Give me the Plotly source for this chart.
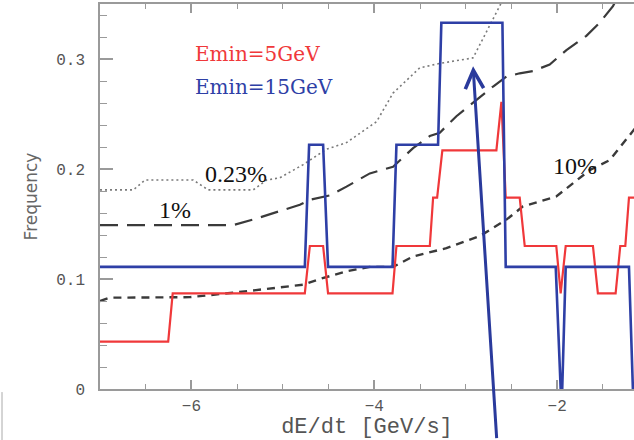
import plotly.graph_objects as go

# Emin = 15 GeV histogram (blue)
blue_x = [-7.0, -4.760, -4.713, -4.560, -4.506, -3.801, -3.758, -3.303, -3.267, -2.599,
          -2.563, -2.016, -1.962, -1.945, -1.907, -1.215, -1.172]
blue_y = [0.111, 0.111, 0.222, 0.222, 0.111, 0.111, 0.222, 0.222, 0.333, 0.333,
          0.111, 0.111, 0.0, 0.0, 0.111, 0.111, 0.0]

# Emin = 5 GeV histogram (red)
red_x = [-7.0, -6.254, -6.205, -4.760, -4.705, -4.560, -4.506, -3.801, -3.758, -3.393,
         -3.357, -3.313, -3.256, -2.665, -2.610, -2.563, -2.410, -2.355, -2.010, -1.962,
         -1.907, -1.609, -1.555, -1.361, -1.310, -1.255, -1.215, -1.10]
red_y = [0.043, 0.043, 0.087, 0.087, 0.130, 0.130, 0.087, 0.087, 0.130, 0.130,
         0.174, 0.174, 0.217, 0.217, 0.261, 0.174, 0.174, 0.130, 0.130, 0.087,
         0.130, 0.130, 0.087, 0.087, 0.130, 0.130, 0.174, 0.174]

# 0.23% chance-probability curve (dotted)
p023_x = [-7.0, -6.636, -6.508, -5.980, -5.816, -5.325, -5.178, -5.033, -4.778, -4.522,
          -4.304, -3.976, -3.795, -3.503, -3.284, -2.920, -2.630, -2.580]
p023_y = [0.181, 0.181, 0.190, 0.190, 0.181, 0.181, 0.190, 0.192, 0.204, 0.218,
          0.224, 0.243, 0.269, 0.292, 0.296, 0.301, 0.348, 0.356]

# 1% curve (long dash)
p1_x = [-7.0, -5.543, -5.289, -4.998, -4.814, -4.705, -4.486, -4.304, -4.049, -3.795,
        -3.576, -3.393, -3.284, -3.102, -2.883, -2.701, -2.555, -2.410, -2.264, -2.082,
        -1.899, -1.681, -1.536, -1.390, -1.317]
p1_y = [0.149, 0.149, 0.155, 0.163, 0.1675, 0.172, 0.176, 0.184, 0.196, 0.202,
        0.219, 0.230, 0.233, 0.248, 0.263, 0.275, 0.284, 0.287, 0.289, 0.295,
        0.308, 0.321, 0.333, 0.348, 0.360]

# 10% curve (short dash)
p10_x = [-7.0, -6.9, -6.016, -5.546, -4.778, -4.596, -4.304, -4.049, -3.795, -3.576,
         -3.211, -2.847, -2.555, -2.374, -2.010, -1.645, -1.426, -1.172, -1.10]
p10_y = [0.080, 0.083, 0.0835, 0.0875, 0.0948, 0.100, 0.107, 0.111, 0.111, 0.1205,
         0.128, 0.139, 0.154, 0.166, 0.175, 0.199, 0.208, 0.234, 0.242]

y_ticks = [0, 0.1, 0.2, 0.3]
y_tick_labels = ["0", "0.1", "0.2", "0.3"]
x_ticks = [-6, -4, -2]
x_tick_labels = ["\u22126", "\u22124", "\u22122"]

BLUE = "#2e3fa6"
RED = "#f0383a"

fig = go.Figure()
fig.add_trace(go.Scatter(x=p023_x, y=p023_y, mode="lines",
                         line=dict(color="#7a7a7a", width=1.6, dash="2px,3px")))
fig.add_trace(go.Scatter(x=p1_x, y=p1_y, mode="lines",
                         line=dict(color="#3a3a3a", width=2.2, dash="18px,9px")))
fig.add_trace(go.Scatter(x=p10_x, y=p10_y, mode="lines",
                         line=dict(color="#3a3a3a", width=2.4, dash="8px,6px")))
fig.add_trace(go.Scatter(x=red_x, y=red_y, mode="lines",
                         line=dict(color=RED, width=2.2)))
fig.add_trace(go.Scatter(x=blue_x, y=blue_y, mode="lines",
                         line=dict(color=BLUE, width=2.6)))

axis_common = dict(
    showgrid=False, zeroline=False, showline=True, linecolor="#9a9a9a", linewidth=1.5,
    ticks="inside", tickcolor="#9a9a9a", tickwidth=1.5, automargin=False,
    tickfont=dict(family="Liberation Mono", size=16, color="#555555"),
)

fig.update_xaxes(
    range=[-7, -1.16], tickvals=x_ticks, ticktext=x_tick_labels, ticklen=9,
    mirror="allticks",
    minor=dict(dtick=0.5, ticklen=5, tickcolor="#9a9a9a", tickwidth=1.2, ticks="inside"),
    ticklabelstandoff=1,
    title=dict(text="dE/dt [GeV/s]", font=dict(family="Liberation Mono", size=22, color="#555555"),
               standoff=0),
    **axis_common,
)
fig.update_yaxes(
    range=[0, 0.35], tickvals=y_ticks, ticktext=y_tick_labels, ticklen=13,
    minor=dict(dtick=0.02, ticklen=7, tickcolor="#9a9a9a", tickwidth=1.2, ticks="inside"),
    ticklabelstandoff=10,
    title=dict(text="Frequency", font=dict(family="DejaVu Sans", size=17, color="#666666"),
               standoff=14),
    **axis_common,
)

ann_font = dict(family="Liberation Serif", size=24, color="#111111")
fig.add_annotation(x=-5.984, y=0.3048, text="Emin=5GeV", showarrow=False, xanchor="left",
                   yanchor="middle", font=dict(family="DejaVu Serif", size=20, color=RED))
fig.add_annotation(x=-5.984, y=0.2748, text="Emin=15GeV", showarrow=False, xanchor="left",
                   yanchor="middle", font=dict(family="DejaVu Serif", size=20, color=BLUE))
fig.add_annotation(x=-5.508, y=0.1957, text="0.23%", showarrow=False, font=ann_font)
fig.add_annotation(x=-6.180, y=0.163, text="1%", showarrow=False, font=ann_font)
fig.add_annotation(x=-1.809, y=0.203, text="10%", showarrow=False, font=ann_font)

# arrow pointing at the 0.23% curve
fig.add_annotation(x=-2.920, y=0.2933, ax=-2.661, ay=-0.046, axref="x", ayref="y",
                   xref="x", yref="y", text="", showarrow=True, arrowhead=5,
                   arrowsize=1.2, arrowwidth=3, arrowcolor="#2a3a9c")

# small edge line at bottom left of the crop
fig.add_shape(type="line", xref="paper", yref="paper", x0=-0.1835, x1=-0.1835,
              y0=-0.008, y1=-0.135, line=dict(color="#aaaaaa", width=1))

fig.update_layout(
    width=634, height=440, showlegend=False,
    margin=dict(l=100, r=0, t=4, b=51),
    plot_bgcolor="white", paper_bgcolor="white",
)

fig.write_html("out.html", config={"displayModeBar": False},
               post_script="document.body.style.margin='0';document.body.style.overflow='hidden';")
